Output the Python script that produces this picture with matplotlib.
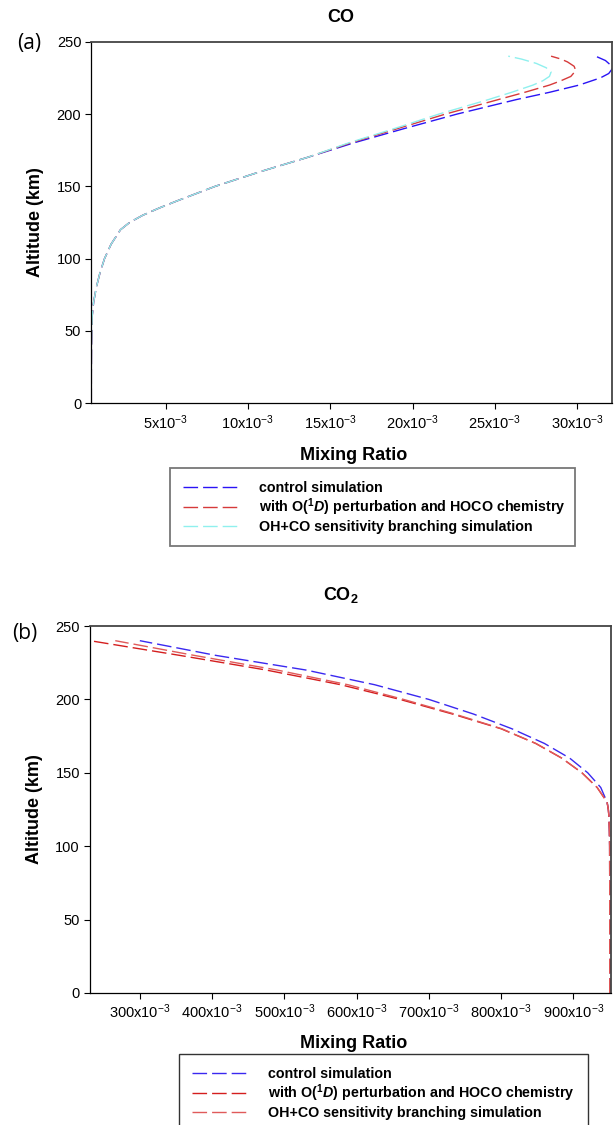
import matplotlib

matplotlib.use("Agg")
import matplotlib.pyplot as plt

# CO profile (panel a): shared lower part, then the three runs split above 170 km
co_alt_low = [0, 20, 40, 60, 70, 80, 90, 100, 110, 120, 125, 130, 135, 140, 150, 160, 170]
co_low = [0.00048, 0.00048, 0.00049, 0.00053, 0.00062, 0.00078, 0.00100, 0.00128,
          0.00168, 0.00225, 0.0028, 0.0036, 0.0046, 0.0057, 0.0080, 0.0107, 0.0136]

co_ctrl_alt = [180, 190, 200, 210, 215, 220, 225, 228, 231, 234, 237, 240]
co_ctrl = [0.0164, 0.0195, 0.0227, 0.0263, 0.0283, 0.0301, 0.0314, 0.0319,
           0.0321, 0.0320, 0.0317, 0.0311]
co_hoco_alt = [180, 190, 200, 210, 215, 220, 223, 226, 230, 233, 236, 238, 240]
co_hoco = [0.0162, 0.0191, 0.0220, 0.0252, 0.0268, 0.0283, 0.0290, 0.0296,
           0.0299, 0.0298, 0.0294, 0.0290, 0.0284]
co_branch_alt = [180, 190, 200, 210, 215, 220, 223, 226, 229, 232, 235, 238, 240]
co_branch = [0.0161, 0.0189, 0.0216, 0.0246, 0.0260, 0.0273, 0.0279, 0.0283,
             0.0284, 0.0281, 0.0275, 0.0266, 0.0258]

# CO2 profile (panel b)
co2_alt_low = [0, 50, 100, 110, 120, 125, 130]
co2_low = [0.9505, 0.9505, 0.9503, 0.9500, 0.9494, 0.9485, 0.9468]
co2_alt_up = [140, 150, 160, 170, 180, 190, 200, 210, 220, 230, 240]
co2_ctrl = [0.938, 0.920, 0.895, 0.860, 0.815, 0.762, 0.700, 0.625, 0.530, 0.405, 0.300]
co2_hoco = [0.933, 0.912, 0.884, 0.848, 0.800, 0.733, 0.660, 0.578, 0.475, 0.355, 0.231]
co2_branch = [0.933, 0.912, 0.884, 0.848, 0.801, 0.736, 0.665, 0.588, 0.490, 0.375, 0.266]

labels = [
    "control simulation",
    r"with $\mathbf{O(}^{\mathbf{1}}\mathit{D}\mathbf{)}$ perturbation and HOCO chemistry",
    "OH+CO sensitivity branching simulation",
]
co_ticks = [5, 10, 15, 20, 25, 30]
co2_ticks = [300, 400, 500, 600, 700, 800, 900]
alt_ticks = [0, 50, 100, 150, 200, 250]

W, H = 614, 1125
DASH = (0, (10.5, 3.6))


def style_axes(ax, ticks, xlim):
    ax.set_xlim(*xlim)
    ax.set_ylim(0, 250)
    ax.set_yticks(alt_ticks)
    ax.set_xticks([t * 1e-3 for t in ticks])
    ax.set_xticklabels([f"{t}x10$^{{-3}}$" for t in ticks])
    ax.tick_params(direction="out", length=4, width=0.8, labelsize=10.5, pad=3,
                   top=False, right=False)
    for side in ("left", "bottom"):
        ax.spines[side].set_color("black")
        ax.spines[side].set_linewidth(0.9)
    for side in ("top", "right"):
        ax.spines[side].set_color("#444444")
        ax.spines[side].set_linewidth(1.3)
    ax.set_xlabel("Mixing Ratio", fontsize=13, fontweight="bold")
    ax.set_ylabel("Altitude (km)", fontsize=13, fontweight="bold")
    ax.yaxis.set_label_coords(-0.106, 0.5)
    ax.yaxis.label.set_va("center")


def add_legend(fig, ax, left, right, top, edge, lw):
    leg = ax.legend(
        loc="upper left",
        bbox_to_anchor=(left / W, 0, (right - left) / W, 1 - top / H),
        bbox_transform=fig.transFigure,
        mode="expand",
        borderaxespad=0,
        frameon=True,
        fancybox=False,
        prop={"family": "Liberation Sans", "weight": "bold", "size": 10.3},
        handlelength=3.9,
        handletextpad=1.4,
        borderpad=0.9,
        labelspacing=0.12,
    )
    leg.get_frame().set_edgecolor(edge)
    leg.get_frame().set_linewidth(lw)
    return leg


def main() -> None:
    plt.rcParams["font.family"] = ["Liberation Sans", "DejaVu Sans"]
    plt.rcParams["mathtext.fontset"] = "custom"
    plt.rcParams["mathtext.rm"] = "Liberation Sans"
    plt.rcParams["mathtext.bf"] = "Liberation Sans:bold"
    plt.rcParams["mathtext.it"] = "Liberation Sans:italic:bold"

    fig = plt.figure(figsize=(W / 100, H / 100), dpi=100)

    # panel (a): CO
    ax_a = fig.add_axes([91 / W, (H - 403.3) / H, 521 / W, 361.6 / H])
    ax_a.plot(co_low + co_ctrl, co_alt_low + co_ctrl_alt, color="#2a14f5",
              lw=1.0, linestyle=DASH, label=labels[0])
    ax_a.plot(co_low + co_hoco, co_alt_low + co_hoco_alt, color="#d63a3a",
              lw=1.0, linestyle=DASH, label=labels[1])
    ax_a.plot(co_low + co_branch, co_alt_low + co_branch_alt, color="#8ff0ee",
              lw=1.0, linestyle=DASH, label=labels[2])
    style_axes(ax_a, co_ticks, (0.00046, 0.0321))
    ax_a.xaxis.set_label_coords(0.504, -(455 - 403.3) / 361.6)
    ax_a.xaxis.label.set_va("center")
    add_legend(fig, ax_a, 170, 575, 467.7, "#555555", 1.3)

    # panel (b): CO2
    ax_b = fig.add_axes([89.7 / W, (H - 993) / H, 521.3 / W, 367 / H])
    ax_b.plot(co2_low + co2_ctrl, co2_alt_low + co2_alt_up, color="#3a28f0",
              lw=1.0, linestyle=DASH, label=labels[0])
    ax_b.plot(co2_low + co2_hoco, co2_alt_low + co2_alt_up, color="#d41e1e",
              lw=1.0, linestyle=DASH, label=labels[1])
    ax_b.plot(co2_low + co2_branch, co2_alt_low + co2_alt_up, color="#e05a5a",
              lw=1.0, linestyle=DASH, label=labels[2])
    style_axes(ax_b, co2_ticks, (0.2306, 0.9522))
    ax_b.xaxis.set_label_coords(0.507, -(1043 - 993) / 367)
    ax_b.xaxis.label.set_va("center")
    add_legend(fig, ax_b, 179.4, 587.5, 1054.3, "black", 1.0)

    fig.text(341 / W, 1 - 18 / H, "CO", fontsize=13, fontweight="bold",
             ha="center", va="center")
    fig.text(341 / W, 1 - 595 / H, r"CO$_{\mathbf{2}}$", fontsize=13,
             fontweight="bold", ha="center", va="center")
    fig.text(29 / W, 1 - 43 / H, "(a)", fontsize=15, family="Open Sans",
             ha="center", va="center")
    fig.text(24.5 / W, 1 - 634 / H, "(b)", fontsize=15, family="Open Sans",
             ha="center", va="center")

    fig.savefig("out.png", dpi=100)
    plt.close(fig)


if __name__ == "__main__":
    main()
